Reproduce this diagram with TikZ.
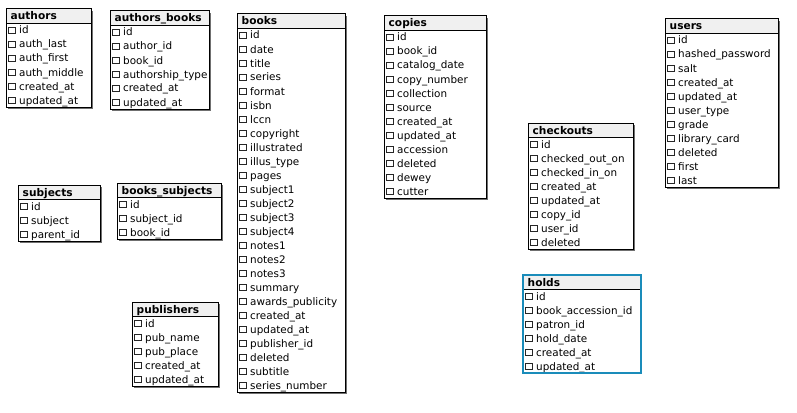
\documentclass[tikz,border=0pt]{standalone}
\usepackage{fontspec}
\setmainfont{DejaVu Sans}

\definecolor{hdrfill}{HTML}{F0F0F0}
\definecolor{selblue}{HTML}{1A8CBA}
\definecolor{shadowgray}{HTML}{707070}

\tikzset{
  tablebody/.style={fill=white, draw=none, inner sep=0pt, outer sep=0pt},
  dbedge/.style={draw=black, line width=1pt},
  dbshadow/.style={fill=shadowgray},
  selectededge/.style={draw=selblue, line width=2.4pt},
  headertext/.style={font=\fontsize{10.6}{12}\selectfont\bfseries, inner sep=0pt, anchor=base west},
  fieldtext/.style={font=\fontsize{10.4}{12}\selectfont, inner sep=0pt, anchor=base west},
  fieldbox/.style={draw=black!85, line width=0.6pt, fill=white, minimum size=6.5pt, inner sep=0pt},
}

% \dbtable{name}{left}{top}{width}{title}{fields}
\newcommand\dbtable[6]{%
  \foreach \f [count=\k] in {#6} {\xdef\dbrows{\k}}%
  \pgfmathsetmacro\dbheight{14+14*\dbrows}%
  \fill[dbshadow] (#2+2,-#3-2) rectangle (#2+#4+2,-#3-\dbheight-2);
  \node[tablebody, minimum width=#4pt, minimum height=\dbheight pt, anchor=north west] (#1) at (#2,-#3) {};
  \fill[hdrfill] (#1.north west) rectangle ([yshift=-14pt]#1.north east);
  \draw[black, line width=0.8pt] ([yshift=-14pt]#1.north west) -- ([yshift=-14pt]#1.north east);
  \node[headertext] (#1-title) at ([xshift=4.5pt,yshift=-11pt]#1.north west) {#5};
  \foreach \f [count=\k] in {#6} {
    \node[fieldbox] (#1-box\k) at ([xshift=6pt,yshift={-(14*\k+7.5)*1pt}]#1.north west) {};
    \node[fieldtext] (#1-field\k) at ([xshift=13pt,yshift={-(14*\k+11)*1pt}]#1.north west) {\f};
  }
  \draw[dbedge] (#1.north west) rectangle (#1.south east);
}

\begin{document}
\begin{tikzpicture}[x=1pt,y=1pt]
  \useasboundingbox (0,0) rectangle (797,-412);
  \fill[white] (0,0) rectangle (797,-412);

  \dbtable{authors}{6}{9}{85}{authors}
    {id,auth\_last,auth\_first,auth\_middle,created\_at,updated\_at}
  \dbtable{authorsbooks}{110}{11}{99}{authors\_books}
    {id,author\_id,book\_id,authorship\_type,created\_at,updated\_at}
  \dbtable{books}{237}{14}{108}{books}
    {id,date,title,series,format,isbn,lccn,copyright,illustrated,illus\_type,pages,
     subject1,subject2,subject3,subject4,notes1,notes2,notes3,summary,awards\_publicity,
     created\_at,updated\_at,publisher\_id,deleted,subtitle,series\_number}
  \dbtable{copies}{384}{16}{102}{copies}
    {id,book\_id,catalog\_date,copy\_number,collection,source,created\_at,updated\_at,
     accession,deleted,dewey,cutter}
  \dbtable{users}{665}{19}{113}{users}
    {id,hashed\_password,salt,created\_at,updated\_at,user\_type,grade,library\_card,
     deleted,first,last}
  \dbtable{checkouts}{528}{123}{105}{checkouts}
    {id,checked\_out\_on,checked\_in\_on,created\_at,updated\_at,copy\_id,user\_id,deleted}
  \dbtable{subjects}{18}{185}{82}{subjects}
    {id,subject,parent\_id}
  \dbtable{bookssubjects}{117}{183}{104}{books\_subjects}
    {id,subject\_id,book\_id}
  \dbtable{publishers}{132}{302}{86}{publishers}
    {id,pub\_name,pub\_place,created\_at,updated\_at}

  % the selected table carries a blue frame and no shadow
  \begin{scope}[dbedge/.style=selectededge, dbshadow/.style={fill=none}]
    \dbtable{holds}{523}{275}{118}{holds}
      {id,book\_accession\_id,patron\_id,hold\_date,created\_at,updated\_at}
  \end{scope}
\end{tikzpicture}
\end{document}
